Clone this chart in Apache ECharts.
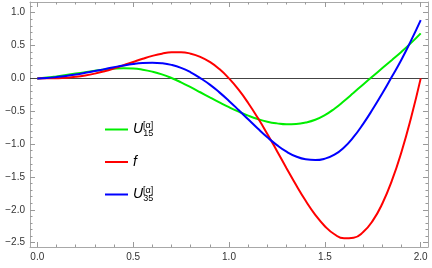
<!DOCTYPE html>
<html><head><meta charset="utf-8">
<script src="https://cdn.jsdelivr.net/npm/echarts@6/dist/echarts.min.js"></script>
<style>html,body{margin:0;padding:0;background:#fff}#c{width:432px;height:268px}</style>
</head><body><div id="c"></div>
<script>
// ---- data ----
const xValues = [0,0.05,0.1,0.15,0.2,0.25,0.3,0.35,0.4,0.45,0.5,0.55,0.6,0.65,0.7,0.75,0.8,0.85,0.9,0.95,1.0,
            1.05,1.1,1.15,1.2,1.25,1.3,1.35,1.4,1.45,1.5,1.55,1.6,1.65,1.7,1.75,1.8,1.85,1.9,1.95,2.0];
const fValues = [0,0.0004,0.0031,0.0102,0.0235,0.0442,0.0728,0.1092,0.1522,0.2000,0.25,0.2988,0.3424,0.3765,0.3964,0.3977,0.3762,0.3280,0.2503,0.1412,0,
            -0.1725,-0.3739,-0.6004,-0.8464,-1.1049,-1.3673,-1.6238,-1.8641,-2.0766,-2.25,-2.3730,-2.4347,-2.4256,-2.3381,-2.1655,-1.9044,-1.5538,-1.1156,-0.5948,0];
const u15Values = [0,0.012,0.03,0.051,0.073,0.095,0.116,0.134,0.148,0.155,0.151,0.133,0.103,0.061,0.006,-0.06,-0.134,-0.211,-0.289,-0.365,-0.438,
            -0.506,-0.567,-0.619,-0.659,-0.685,-0.699,-0.694,-0.672,-0.63,-0.56,-0.462,-0.344,-0.219,-0.092,0.033,0.157,0.281,0.407,0.541,0.686];
const u35Values = [0,0.006,0.02,0.038,0.06,0.085,0.112,0.141,0.17,0.197,0.219,0.234,0.239,0.231,0.206,0.161,0.093,0.005,-0.095,-0.213,-0.343,
            -0.481,-0.623,-0.763,-0.896,-1.016,-1.116,-1.189,-1.232,-1.244,-1.222,-1.162,-1.052,-0.892,-0.692,-0.467,-0.227,0.028,0.288,0.578,0.888];
const seriesNames = ['U15', 'f', 'U35'];
const seriesColors = ['#00ee00', '#ff0000', '#0000ff'];
const xTickValues = [0, 0.5, 1, 1.5, 2];
const yTickValues = [-2.5, -2, -1.5, -1, -0.5, 0, 0.5, 1];
const xRange = [-0.038, 2.038];
const yRange = [-2.567, 1.163];

// minor tick positions (every 0.1)
const xMinor = [], yMinor = [];
for (let i = 0; i <= 20; i++) if (i % 5) xMinor.push(i / 10);
for (let i = -25; i <= 11; i++) if (i % 5) yMinor.push(i / 10);

const pairs = (xs, ys) => xs.map((x, i) => [x, ys[i]]);
const fmt = v => (v < 0 ? '\u2212' : '') + Math.abs(v).toFixed(1);
const frameColor = '#a8a8a8', tickColor = '#999', labelColor = '#333';
const font = 'Liberation Sans';

function axis(dim, pos, ticks, len, labels, line) {
  const isX = dim === 'x';
  return {
    type: 'value', position: pos,
    min: isX ? xRange[0] : yRange[0], max: isX ? xRange[1] : yRange[1],
    axisLine: { show: line, onZero: false, lineStyle: { color: frameColor, width: 1 } },
    axisTick: { show: true, inside: true, length: len, customValues: ticks, lineStyle: { color: tickColor, width: 1 } },
    axisLabel: labels ? { show: true, customValues: ticks, formatter: fmt, margin: 5, fontSize: 10,
                          color: labelColor, fontFamily: font } : { show: false },
    splitLine: { show: false }, axisPointer: { show: false }
  };
}

function lineSeries(idx, values) {
  return {
    name: seriesNames[idx], type: 'line', data: pairs(xValues, values),
    smooth: 0.5, symbol: 'none',
    color: seriesColors[idx], lineStyle: { width: 2, color: seriesColors[idx] }, z: 2
  };
}

const chart = echarts.init(document.getElementById('c'), null, { renderer: 'canvas' });
const s0 = lineSeries(0, u15Values);
s0.markLine = { silent: true, symbol: 'none', z: 1, label: { show: false },
                lineStyle: { color: '#444', width: 1, type: 'solid' }, data: [{ yAxis: 0 }] };
chart.setOption({
  animation: false,
  backgroundColor: '#fff',
  grid: { left: 30, right: 4, top: 2, bottom: 21, containLabel: false },
  xAxis: [
    axis('x', 'bottom', xTickValues, 5, true, true),
    axis('x', 'bottom', xMinor, 2.5, false, false),
    axis('x', 'top', xTickValues, 5, false, true),
    axis('x', 'top', xMinor, 2.5, false, false)
  ],
  yAxis: [
    axis('y', 'left', yTickValues, 5, true, true),
    axis('y', 'left', yMinor, 2.5, false, false),
    axis('y', 'right', yTickValues, 5, false, true),
    axis('y', 'right', yMinor, 2.5, false, false)
  ],
  legend: {
    orient: 'vertical', left: 100, top: 116, itemGap: 17,
    itemWidth: 23, itemHeight: 2, icon: 'rect', selectedMode: false,
    data: seriesNames,
    formatter: function (name) {
      if (name === 'f') return '{it|f}';
      return '{it|U}{sup|[\u03b1]}{sub|' + name.slice(1) + '}';
    },
    textStyle: {
      fontFamily: font, color: '#000',
      rich: {
        it: { fontFamily: font, fontStyle: 'italic', fontSize: 14, lineHeight: 17, color: '#000' },
        sup: { fontFamily: font, fontSize: 9, lineHeight: 9, verticalAlign: 'top', width: 0.1, color: '#000' },
        sub: { fontFamily: font, fontSize: 9, lineHeight: 9, verticalAlign: 'bottom', color: '#000' }
      }
    }
  },
  series: [ s0, lineSeries(1, fValues), lineSeries(2, u35Values) ]
});
</script></body></html>
